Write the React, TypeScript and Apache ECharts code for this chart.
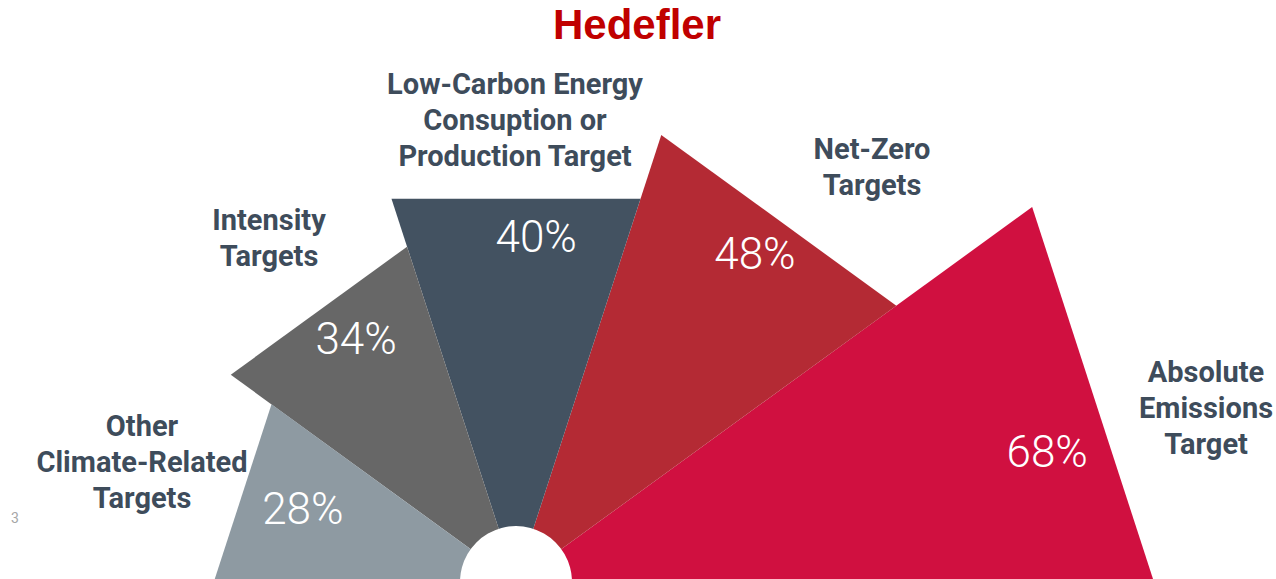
import React, { useEffect, useRef } from "react";
import * as echarts from "echarts";

// ---- data ----
const categories = [
  "Absolute\nEmissions\nTarget",
  "Net-Zero\nTargets",
  "Low-Carbon Energy\nConsuption or\nProduction Target",
  "Intensity\nTargets",
  "Other\nClimate-Related\nTargets",
];
const values = [68, 48, 40, 34, 28];
const title = "Hedefler";
const pageNumber = "3";

// ---- layout / style ----
const colors = ["#d01040", "#b42a34", "#435261", "#676767", "#8e9aa2"];
const RMIN = -8;
const RMAX = 68;
const SPAN = 36;
const labelRadiusFrac = [0.857, 0.864, 0.857, 0.826, 0.745];
const labelAngleFrac = [0.381, 0.499, 0.407, 0.425, 0.478];
const catLabelPos: [number, number][] = [
  [1206, 372],
  [872, 149],
  [515, 84],
  [269, 220],
  [142, 426],
];

export default function App() {
  const ref = useRef<HTMLDivElement>(null);
  useEffect(() => {
    if (!ref.current) return;
    const chart = echarts.init(ref.current, null, { renderer: "svg" });
    const wedgeData = values.map((v, i) => [v, i * SPAN, (i + 1) * SPAN]);
    const option: any = {
      animation: false,
      backgroundColor: "#ffffff",
      polar: { center: [516, 582], radius: 638 },
      angleAxis: {
        type: "value",
        min: 0,
        max: 360,
        startAngle: 0,
        clockwise: false,
        show: false,
      },
      radiusAxis: { type: "value", min: RMIN, max: RMAX, show: false },
      title: {
        text: title,
        left: 632,
        top: -2,
        textAlign: "center",
        textStyle: {
          color: "#c00000",
          fontFamily: "Liberation Sans, Arial, sans-serif",
          fontWeight: "bold",
          fontSize: 42,
        },
      },
      graphic: [
        ...categories.map((c, i) => ({
          type: "text",
          x: catLabelPos[i][0],
          y: catLabelPos[i][1] - 18,
          style: {
            text: c,
            fill: "#3e4c5b",
            font: "bold 29px Roboto, sans-serif",
            lineHeight: 36,
            align: "center",
            verticalAlign: "top",
          },
        })),
        {
          type: "text",
          x: 15,
          y: 518,
          style: {
            text: pageNumber,
            fill: "#a6a6a6",
            font: "14px Roboto, sans-serif",
            align: "center",
            verticalAlign: "middle",
          },
        },
      ],
      series: [
        {
          type: "custom",
          coordinateSystem: "polar",
          data: wedgeData,
          renderItem: (params: any, api: any) => {
            const i = params.dataIndex;
            const v = api.value(0);
            const a0 = api.value(1);
            const a1 = api.value(2);
            const c = api.coord([RMIN, 0]);
            const p0 = api.coord([v, a0]);
            const p1 = api.coord([v, a1]);
            const la = a0 + (a1 - a0) * labelAngleFrac[i];
            const lr = RMIN + (v - RMIN) * labelRadiusFrac[i];
            const lp = api.coord([lr, la]);
            return {
              type: "group",
              children: [
                {
                  type: "polygon",
                  shape: { points: [c, p0, p1] },
                  style: { fill: colors[i] },
                },
                {
                  type: "text",
                  x: lp[0],
                  y: lp[1],
                  style: {
                    text: v + "%",
                    fill: "#ffffff",
                    font: "300 44px Roboto, sans-serif",
                    align: "center",
                    verticalAlign: "middle",
                  },
                },
              ],
            };
          },
        },
        {
          type: "custom",
          coordinateSystem: "polar",
          data: [[RMIN, 0]],
          z: 5,
          renderItem: (params: any, api: any) => {
            const p = api.coord([api.value(0), api.value(1)]);
            return {
              type: "circle",
              shape: { cx: p[0], cy: p[1], r: 56 },
              style: { fill: "#ffffff" },
            };
          },
        },
      ],
    };
    chart.setOption(option);
    return () => chart.dispose();
  }, []);
  return (
    <div
      ref={ref}
      style={{ position: "fixed", left: 0, top: 0, width: 1276, height: 579 }}
    />
  );
}
